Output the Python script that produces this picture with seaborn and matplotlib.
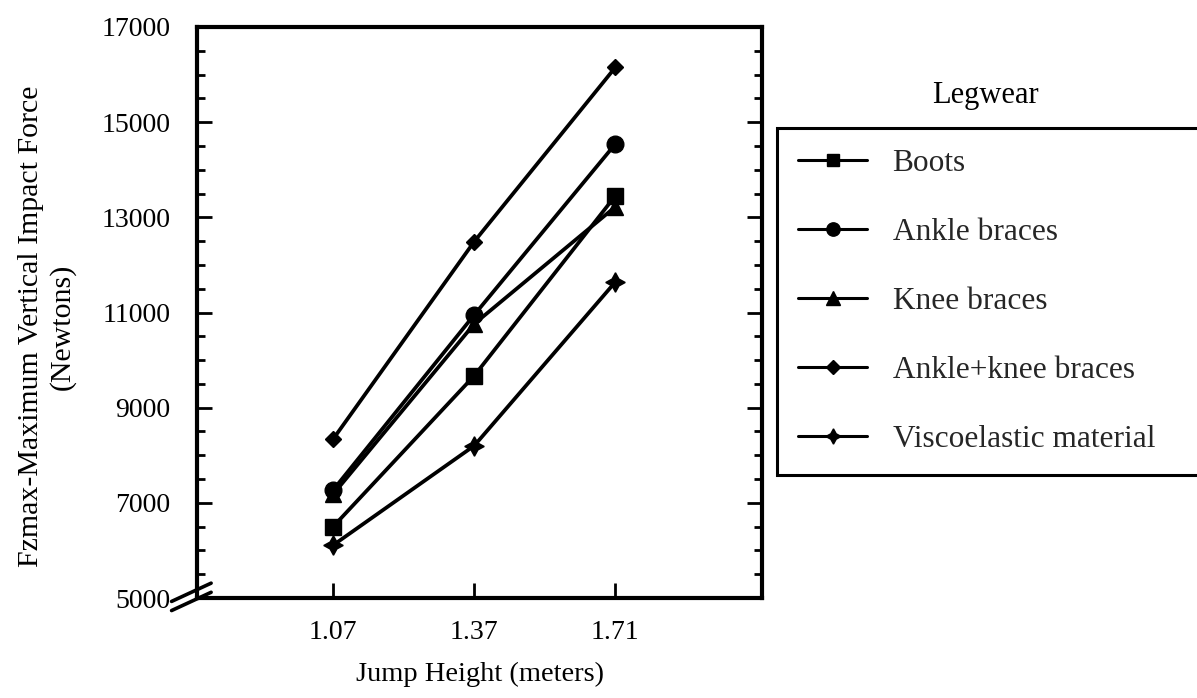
import pandas as pd
import matplotlib
matplotlib.use("Agg")
import matplotlib.pyplot as plt
from matplotlib.ticker import MultipleLocator
import seaborn as sns

# Jump heights (categories) and peak vertical force per legwear condition
HEIGHTS = ["1.07", "1.37", "1.71"]
LEGWEAR = ["Boots", "Ankle braces", "Knee braces", "Ankle+knee braces",
           "Viscoelastic material"]
BOOTS = [6500, 9670, 13450]
ANKLE = [7270, 10950, 14540]
KNEE = [7180, 10760, 13220]
ANKLE_KNEE = [8340, 12490, 16150]
VISCO = [6110, 8200, 11640]
Y_TICKS = [5000, 7000, 9000, 11000, 13000, 15000, 17000]

rows = []
for name, vals in zip(LEGWEAR, [BOOTS, ANKLE, KNEE, ANKLE_KNEE, VISCO]):
    for h, v in zip(HEIGHTS, vals):
        rows.append({"height": h, "force": v, "legwear": name})
df = pd.DataFrame(rows)

sns.set_theme(style="ticks")
plt.rcParams["font.family"] = ["Liberation Serif", "DejaVu Serif"]

MARKERS = {
    "Boots": "s",
    "Ankle braces": "o",
    "Knee braces": "^",
    "Ankle+knee braces": "D",
    "Viscoelastic material": (4, 1, 0),
}

dpi = 100
fig = plt.figure(figsize=(1197 / dpi, 698 / dpi), dpi=dpi)
ax = fig.add_axes([197 / 1197, 1 - 598 / 698, 565 / 1197, 571 / 698])

sns.lineplot(
    data=df, x="height", y="force", style="legwear",
    style_order=LEGWEAR, markers=MARKERS, dashes=False,
    color="black", linewidth=2.7, markersize=11,
    mec="black", mew=1, errorbar=None, ax=ax,
)
# marker sizes differ a little per symbol in the original
msize = {"s": 11, "o": 12, "^": 12, "D": 8.5}
for ln in ax.lines:
    m = ln.get_marker()
    if isinstance(m, str) and m in msize:
        ln.set_markersize(msize[m])
    else:
        ln.set_markersize(14)

ax.set_xlim(-0.965, 3.04)
ax.set_ylim(5000, 17000)
ax.set_yticks(Y_TICKS)
ax.yaxis.set_minor_locator(MultipleLocator(500))

for side in ax.spines.values():
    side.set_linewidth(3.0)
    side.set_color("black")

ax.tick_params(axis="y", which="major", direction="in", length=11, width=2,
               labelsize=20, pad=19, right=True, colors="black")
ax.tick_params(axis="y", which="minor", direction="in", length=6, width=2,
               right=True, colors="black")
ax.tick_params(axis="x", which="major", direction="in", length=11, width=2,
               labelsize=20, pad=16, colors="black")

ax.set_ylabel("Fzmax-Maximum Vertical Impact Force\n(Newtons)",
              fontsize=21.5, color="black", linespacing=1.2)
ax.yaxis.set_label_coords(-0.215, 0.475)
ax.set_xlabel("Jump Height (meters)", fontsize=20.5, color="black")
ax.xaxis.set_label_coords(0.5, -0.112)

# axis break marks at the lower-left corner
for dy in (0.0, 0.016):
    ax.plot([-0.045, 0.025], [-0.022 + dy, 0.01 + dy], color="black",
            lw=2.6, transform=ax.transAxes, clip_on=False)

handles, labels = ax.get_legend_handles_labels()
ax.get_legend().remove()
for h in handles:
    h.set_color("black")
    h.set_markerfacecolor("black")
    h.set_markeredgecolor("black")
    h.set_linewidth(2.2)
    mk = h.get_marker()
    h.set_markersize(msize.get(mk, 12) * 0.8 if isinstance(mk, str) else 11)

leg = fig.legend(
    handles, labels, loc="upper left",
    bbox_to_anchor=(777 / 1197, 1 - 473 / 698, 440 / 1197, 345 / 698),
    bbox_transform=fig.transFigure, mode="expand",
    fontsize=22.6, frameon=True, fancybox=False, borderpad=0.68,
    labelspacing=1.27, handlelength=2.2, handletextpad=0.8,
    borderaxespad=0,
)
leg.get_frame().set_edgecolor("black")
leg.get_frame().set_linewidth(2.2)
leg.get_frame().set_alpha(1)

fig.text(985 / 1197, 1 - 95 / 698, "Legwear", ha="center", va="center",
         fontsize=22, color="black")

fig.savefig("out.png", dpi=dpi)
